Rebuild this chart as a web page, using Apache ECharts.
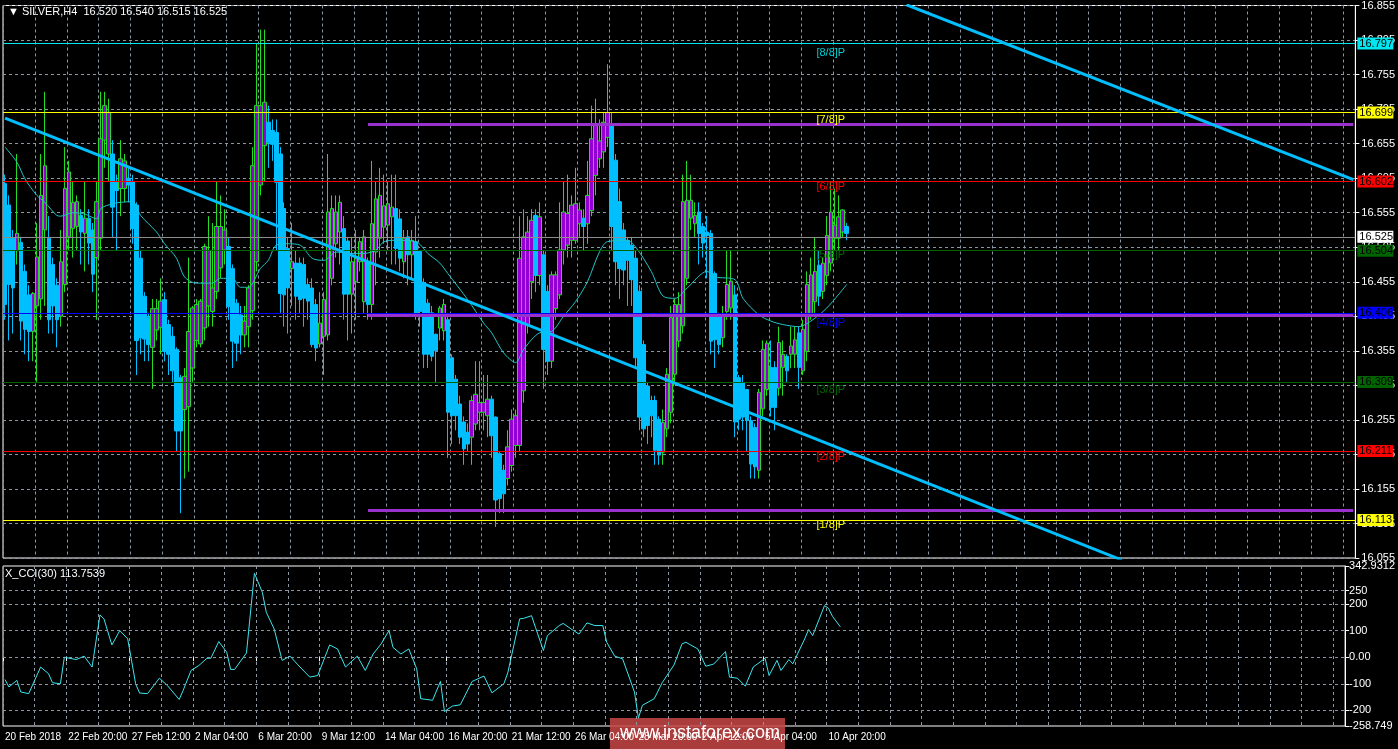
<!DOCTYPE html>
<html>
<head>
<meta charset="utf-8">
<script src="https://cdn.jsdelivr.net/npm/echarts@6/dist/echarts.min.js"></script>
<style>
html,body{margin:0;padding:0;background:#000;}
#chart{width:1398px;height:749px;}
</style>
</head>
<body>
<div id="chart"></div>
<script>
// SILVER H4 bars: [open, close, low, high]
var candles = [
[16.597,16.422,16.40,16.610],[16.566,16.451,16.37,16.58],[16.518,16.446,16.38,16.53],[16.500,16.525,16.48,16.64],
[16.512,16.398,16.37,16.52],[16.470,16.386,16.35,16.48],[16.436,16.383,16.34,16.45],[16.383,16.438,16.34,16.44],
[16.420,16.491,16.31,16.54],[16.430,16.580,16.40,16.64],[16.530,16.623,16.42,16.73],[16.518,16.400,16.38,16.55],
[16.480,16.420,16.38,16.49],[16.450,16.400,16.36,16.46],[16.405,16.484,16.39,16.53],[16.451,16.590,16.44,16.65],
[16.520,16.614,16.50,16.63],[16.532,16.570,16.49,16.60],[16.535,16.571,16.50,16.58],[16.551,16.527,16.48,16.56],
[16.525,16.547,16.47,16.60],[16.547,16.511,16.48,16.56],[16.530,16.466,16.44,16.54],[16.490,16.571,16.40,16.60],
[16.518,16.662,16.50,16.73],[16.660,16.710,16.62,16.73],[16.640,16.700,16.60,16.72],[16.640,16.563,16.52,16.66],
[16.600,16.587,16.50,16.61],[16.590,16.633,16.55,16.66],[16.590,16.630,16.57,16.64],[16.605,16.595,16.57,16.62],
[16.600,16.532,16.51,16.61],[16.566,16.370,16.32,16.57],[16.489,16.374,16.35,16.50],[16.434,16.372,16.34,16.44],
[16.403,16.364,16.34,16.41],[16.360,16.416,16.30,16.43],[16.385,16.416,16.37,16.43],[16.389,16.427,16.35,16.46],
[16.429,16.354,16.34,16.44],[16.393,16.350,16.32,16.40],[16.376,16.326,16.31,16.39],[16.357,16.239,16.21,16.36],
[16.316,16.239,16.12,16.32],[16.270,16.318,16.17,16.33],[16.274,16.383,16.18,16.49],[16.330,16.417,16.31,16.42],
[16.370,16.422,16.36,16.43],[16.365,16.427,16.36,16.43],[16.388,16.506,16.37,16.51],[16.420,16.500,16.39,16.55],
[16.412,16.446,16.39,16.54],[16.441,16.535,16.43,16.60],[16.475,16.535,16.46,16.58],[16.501,16.530,16.48,16.56],
[16.506,16.419,16.40,16.52],[16.474,16.369,16.33,16.48],[16.424,16.366,16.34,16.43],[16.407,16.378,16.35,16.42],
[16.378,16.398,16.36,16.42],[16.390,16.446,16.36,16.45],[16.413,16.623,16.40,16.65],[16.484,16.710,16.47,16.80],
[16.595,16.710,16.58,16.82],[16.652,16.715,16.60,16.82],[16.686,16.657,16.62,16.71],[16.674,16.654,16.63,16.69],
[16.671,16.599,16.50,16.69],[16.640,16.438,16.41,16.65],[16.561,16.436,16.39,16.57],[16.503,16.446,16.38,16.52],
[16.474,16.484,16.42,16.54],[16.482,16.434,16.40,16.50],[16.482,16.429,16.41,16.49],[16.480,16.431,16.39,16.49],
[16.451,16.427,16.40,16.46],[16.446,16.364,16.36,16.46],[16.422,16.359,16.34,16.43],[16.365,16.395,16.36,16.44],
[16.376,16.429,16.32,16.44],[16.378,16.556,16.37,16.64],[16.460,16.561,16.45,16.58],[16.510,16.556,16.49,16.58],
[16.527,16.570,16.48,16.58],[16.532,16.437,16.40,16.55],[16.514,16.437,16.37,16.52],[16.437,16.484,16.38,16.52],
[16.455,16.489,16.40,16.53],[16.484,16.513,16.47,16.52],[16.426,16.520,16.41,16.53],[16.484,16.422,16.40,16.49],
[16.422,16.539,16.40,16.63],[16.498,16.575,16.45,16.60],[16.518,16.580,16.49,16.62],[16.534,16.565,16.51,16.61],
[16.537,16.568,16.50,16.60],[16.549,16.563,16.48,16.61],[16.561,16.503,16.48,16.61],[16.546,16.489,16.47,16.56],
[16.484,16.518,16.46,16.53],[16.520,16.494,16.45,16.53],[16.494,16.515,16.46,16.53],[16.513,16.409,16.40,16.55],
[16.499,16.412,16.39,16.50],[16.453,16.350,16.33,16.46],[16.424,16.350,16.33,16.43],[16.410,16.347,16.34,16.42],
[16.379,16.355,16.31,16.38],[16.388,16.417,16.37,16.42],[16.384,16.422,16.37,16.43],[16.400,16.266,16.20,16.41],
[16.345,16.261,16.22,16.35],[16.314,16.261,16.24,16.32],[16.278,16.230,16.22,16.29],[16.252,16.213,16.19,16.26],
[16.237,16.220,16.21,16.25],[16.230,16.283,16.19,16.29],[16.249,16.292,16.24,16.34],[16.266,16.280,16.24,16.34],
[16.266,16.280,16.24,16.32],[16.261,16.285,16.23,16.32],[16.285,16.232,16.20,16.29],[16.259,16.139,16.10,16.26],
[16.206,16.141,16.12,16.21],[16.182,16.148,16.12,16.19],[16.170,16.216,16.16,16.24],[16.189,16.256,16.18,16.27],
[16.218,16.261,16.20,16.27],[16.218,16.489,16.21,16.55],[16.297,16.520,16.28,16.56],[16.393,16.527,16.38,16.55],
[16.455,16.544,16.43,16.56],[16.551,16.464,16.44,16.56],[16.464,16.549,16.45,16.57],[16.494,16.357,16.30,16.50],
[16.441,16.340,16.32,16.45],[16.340,16.465,16.33,16.47],[16.416,16.465,16.40,16.47],[16.436,16.501,16.43,16.57],
[16.501,16.556,16.48,16.60],[16.508,16.554,16.49,16.61],[16.515,16.566,16.49,16.58],[16.515,16.568,16.51,16.62],
[16.539,16.559,16.52,16.57],[16.547,16.535,16.50,16.56],[16.539,16.580,16.51,16.63],[16.558,16.662,16.55,16.71],
[16.609,16.681,16.58,16.72],[16.633,16.659,16.62,16.69],[16.643,16.686,16.62,16.70],[16.664,16.700,16.65,16.77],
[16.683,16.535,16.50,16.70],[16.631,16.484,16.45,16.64],[16.571,16.474,16.43,16.59],[16.530,16.472,16.45,16.54],
[16.515,16.486,16.42,16.52],[16.508,16.458,16.42,16.52],[16.489,16.345,16.33,16.50],[16.441,16.259,16.24,16.45],
[16.364,16.242,16.23,16.37],[16.304,16.247,16.22,16.31],[16.283,16.261,16.23,16.29],[16.283,16.211,16.19,16.29],
[16.256,16.204,16.19,16.26],[16.208,16.251,16.19,16.27],[16.242,16.321,16.23,16.33],[16.266,16.403,16.25,16.42],
[16.321,16.422,16.31,16.43],[16.369,16.422,16.36,16.44],[16.391,16.571,16.38,16.61],[16.460,16.573,16.45,16.63],
[16.547,16.573,16.53,16.61],[16.539,16.551,16.52,16.57],[16.556,16.525,16.48,16.57],[16.535,16.511,16.49,16.54],
[16.527,16.522,16.46,16.55],[16.525,16.369,16.35,16.53],[16.467,16.371,16.33,16.47],[16.407,16.364,16.35,16.41],
[16.374,16.407,16.36,16.42],[16.412,16.451,16.40,16.50],[16.417,16.456,16.40,16.50],[16.436,16.252,16.23,16.45],
[16.316,16.256,16.24,16.32],[16.309,16.259,16.24,16.32],[16.299,16.254,16.21,16.30],[16.254,16.191,16.17,16.26],
[16.244,16.187,16.17,16.25],[16.182,16.295,16.17,16.30],[16.271,16.357,16.26,16.37],[16.299,16.366,16.29,16.37],
[16.331,16.273,16.26,16.37],[16.331,16.273,16.24,16.34],[16.301,16.367,16.29,16.39],[16.331,16.350,16.29,16.37],
[16.347,16.326,16.31,16.35],[16.350,16.362,16.33,16.39],[16.350,16.371,16.33,16.39],[16.381,16.331,16.30,16.39],
[16.326,16.386,16.32,16.40],[16.354,16.451,16.34,16.47],[16.407,16.465,16.40,16.49],[16.426,16.470,16.41,16.52],
[16.479,16.434,16.42,16.50],[16.441,16.482,16.43,16.49],[16.464,16.522,16.45,16.55],[16.482,16.556,16.47,16.60],
[16.518,16.537,16.50,16.59],[16.518,16.549,16.50,16.58],[16.527,16.559,16.52,16.56],[16.535,16.525,16.515,16.54]
];

// moving average: [bar index, value]
var maPoints = [
[0,16.650],[3,16.628],[5,16.604],[8,16.580],[10,16.570],[13,16.551],[14,16.550],[17,16.555],[20,16.553],[23,16.546],
[24,16.561],[27,16.568],[29,16.570],[32,16.571],[34,16.551],[38,16.527],[40,16.510],[43,16.489],[45,16.462],[48,16.453],
[52,16.453],[54,16.460],[57,16.460],[59,16.447],[61,16.447],[64,16.474],[66,16.486],[68,16.508],[71,16.510],[74,16.508],
[77,16.489],[80,16.486],[83,16.498],[87,16.496],[90,16.496],[93,16.501],[95,16.513],[98,16.515],[103,16.513],[106,16.496],
[109,16.482],[111,16.467],[116,16.429],[120,16.395],[122,16.381],[125,16.352],[128,16.338],[130,16.357],[134,16.381],[137,16.383],
[140,16.405],[143,16.426],[146,16.455],[149,16.498],[151,16.513],[156,16.515],[158,16.506],[162,16.470],[165,16.434],[168,16.431],
[171,16.446],[176,16.470],[178,16.462],[183,16.458],[185,16.431],[189,16.407],[192,16.398],[195,16.393],[199,16.390],[202,16.398],
[206,16.417],[211,16.451]
];

// X_CCI(30): [bar index, value]
var cciPoints = [
[0,-84],[1,-112],[3,-87],[4,-131],[6,-137],[9,-37],[11,-62],[12,-96],[14,-100],[15,0],[18,-9],[20,4],[22,-37],[24,159],[25,144],
[27,46],[29,100],[31,69],[33,-100],[34,-135],[36,-137],[39,-79],[41,-106],[44,-159],[45,-125],[47,-50],[49,-31],[51,-4],[52,-4],
[54,59],[56,19],[57,-46],[58,-46],[61,16],[63,316],[65,244],[66,169],[68,106],[70,-12],[72,4],[74,-29],[77,-75],[79,-69],[82,46],
[84,31],[86,-37],[89,4],[91,-50],[93,12],[95,50],[97,100],[98,37],[100,12],[102,31],[104,-44],[105,-156],[108,-162],[110,-91],
[111,-204],[113,-184],[115,-179],[118,-91],[121,-71],[123,-134],[126,-100],[127,-59],[130,144],[131,146],[133,156],[134,112],
[136,25],[137,81],[140,119],[141,127],[143,106],[145,87],[147,129],[149,119],[151,119],[152,56],[154,4],[156,-6],[159,-131],
[160,-229],[161,-181],[164,-156],[166,-96],[169,-29],[171,50],[172,56],[175,31],[177,-34],[179,-26],[182,21],[183,-75],[185,-79],
[187,-109],[189,-37],[192,-4],[193,-69],[195,-12],[196,-50],[198,-9],[199,-25],[202,69],[203,104],[204,81],[207,194],[208,184],
[209,154],[211,114]
];

// time axis labels, every 16 bars
var timeLabels = {
0:'20 Feb 2018',16:'22 Feb 20:00',32:'27 Feb 12:00',48:'2 Mar 04:00',64:'6 Mar 20:00',80:'9 Mar 12:00',96:'14 Mar 04:00',
112:'16 Mar 20:00',128:'21 Mar 12:00',144:'26 Mar 04:00',160:'28 Mar 20:00',176:'2 Apr 12:00',192:'5 Apr 04:00',208:'10 Apr 20:00'
};

// horizontal levels with right-side price tags
var levels = [
{v:16.797,c:'#00E5EE'},{v:16.699,c:'#FFFF00'},{v:16.602,c:'#FF0000'},{v:16.525,c:'#FFFFFF',line:'#8c8c8c'},
{v:16.504,c:'#006400'},{v:16.406,c:'#0000FF'},{v:16.309,c:'#006400'},{v:16.211,c:'#FF0000'},{v:16.113,c:'#FFFF00'}
];
// murrey labels
var murrey = [
{t:'[8/8]P',v:16.797,c:'#00CED1'},{t:'[7/8]P',v:16.699,c:'#FFFF00'},{t:'[6/8]P',v:16.602,c:'#FF0000'},
{t:'[5/8]P',v:16.504,c:'#006400'},{t:'[4/8]P',v:16.406,c:'#0000FF'},{t:'[3/8]P',v:16.309,c:'#006400'},
{t:'[2/8]P',v:16.211,c:'#FF0000'},{t:'[1/8]P',v:16.113,c:'#FFFF00'}
];
var purpleLevels = [16.683, 16.406, 16.124];
var trendA = [[0,16.692],[280,16.052]];
var trendB = [[226,16.856],[338,16.603]];
var cciTicks = [342.9312, 250, 200, 100, 0, -100, -200, -258.749];
var cciGrid = [250, 200, 100, 0, -100, -200];

var nCat = 339;
var cats = [];
for (var i = 0; i < nCat; i++) cats.push(String(i));

var gridColor = '#8a96a3';
var font = 'Liberation Sans';

var levelLines = levels.map(function(l){
	return {
		yAxis: l.v,
		lineStyle: {color: l.line || l.c, width: 1, type: 'solid'},
		label: {
			show: true, position: 'end', distance: 2,
			formatter: l.v.toFixed(3),
			backgroundColor: l.c, color: '#000',
			fontFamily: font, fontSize: 11, padding: [1, 3, 0, 2], width: 31
		}
	};
});
purpleLevels.forEach(function(v){
	levelLines.push([
		{coord: [91, v], lineStyle: {color: '#9932CC', width: 3, type: 'solid'}, label: {show: false}},
		{coord: [338, v]}
	]);
});

function trendSeries(pts){
	return {type: 'line', xAxisIndex: 0, yAxisIndex: 0, data: pts, showSymbol: false, clip: true,
		lineStyle: {color: '#00BFFF', width: 3}, z: 5};
}

var chart = echarts.init(document.getElementById('chart'));
chart.setOption({
	backgroundColor: '#000',
	animation: false,
	textStyle: {fontFamily: font},
	grid: [
		{left: 3, right: 40, top: 5, height: 553, show: true, borderColor: '#fff', borderWidth: 1},
		{left: 3, right: 40, top: 566, height: 160, show: true, borderColor: '#fff', borderWidth: 1}
	],
	xAxis: [
		{type: 'category', gridIndex: 0, data: cats, boundaryGap: true,
			axisLine: {show: false}, axisTick: {show: false}, axisLabel: {show: false},
			splitLine: {show: true, interval: function(i){return i % 8 === 0;}, lineStyle: {color: gridColor, type: [3, 3]}}},
		{type: 'category', gridIndex: 1, data: cats, boundaryGap: true,
			axisLine: {show: false},
			axisTick: {show: true, interval: function(i){return timeLabels[i] !== undefined;}, length: 4, lineStyle: {color: '#fff'}},
			axisLabel: {show: true, interval: function(i){return timeLabels[i] !== undefined;},
				formatter: function(v){return timeLabels[+v] || '';}, align: 'left', margin: 6,
				color: '#fff', fontFamily: font, fontSize: 10},
			splitLine: {show: true, interval: function(i){return i % 8 === 0;}, lineStyle: {color: gridColor, type: [3, 3]}}}
	],
	yAxis: [
		{type: 'value', gridIndex: 0, position: 'right', min: 16.055, max: 16.855, interval: 0.05,
			axisLine: {show: true, lineStyle: {color: '#fff'}}, axisTick: {show: true, length: 4, lineStyle: {color: '#fff'}},
			axisLabel: {color: '#fff', fontSize: 11, fontFamily: font, margin: 6, formatter: function(v){return v.toFixed(3);}},
			splitLine: {show: true, lineStyle: {color: gridColor, type: [3, 3]}}},
		{type: 'value', gridIndex: 1, position: 'right', min: -258.749, max: 342.9312,
			axisLine: {show: true, lineStyle: {color: '#fff'}},
			axisTick: {show: true, length: 4, customValues: cciTicks, lineStyle: {color: '#fff'}},
			axisLabel: {color: '#fff', fontSize: 11, fontFamily: font, margin: 4, customValues: cciTicks,
				formatter: function(v){return v === 0 ? '0.00' : String(v);}},
			splitLine: {show: false}}
	],
	series: [
		{type: 'candlestick', xAxisIndex: 0, yAxisIndex: 0, data: candles, barWidth: 4,
			itemStyle: {color: '#9400D3', borderColor: '#22DD22', color0: '#00BFFF', borderColor0: '#00BFFF', borderWidth: 1},
			markLine: {symbol: 'none', silent: true, data: levelLines},
			markPoint: {symbol: 'rect', symbolSize: 0, silent: true,
				data: murrey.map(function(m){
					return {coord: [207, m.v], label: {show: true, formatter: m.t, color: m.c, fontSize: 11, fontFamily: font, offset: [0, 7]}};
				})}
		},
		{type: 'line', xAxisIndex: 0, yAxisIndex: 0, data: maPoints, showSymbol: false, smooth: 0.3,
			lineStyle: {color: '#20C5C8', width: 1}},
		trendSeries(trendA),
		trendSeries(trendB),
		{type: 'line', xAxisIndex: 1, yAxisIndex: 1, data: cciPoints, showSymbol: false,
			lineStyle: {color: '#3CE6F0', width: 1},
			markLine: {symbol: 'none', silent: true, label: {show: false},
				lineStyle: {color: gridColor, type: [3, 3], width: 1},
				data: cciGrid.map(function(v){return {yAxis: v};})}}
	],
	graphic: [
		{type: 'text', left: 8, top: 6, style: {text: '\u25BC SILVER,H4  16.520 16.540 16.515 16.525', fill: '#fff', font: '11px "Liberation Sans"'}},
		{type: 'text', left: 5, top: 568, style: {text: 'X_CCI(30) 113.7539', fill: '#fff', font: '11px "Liberation Sans"'}},
		{type: 'rect', left: 610, top: 718, shape: {width: 175, height: 31}, style: {fill: 'rgba(200,70,70,0.85)'}},
		{type: 'text', left: 620, top: 724, style: {text: 'www.instaforex.com', fill: '#fff', font: '18px "Liberation Sans"'}}
	]
});
</script>
</body>
</html>
